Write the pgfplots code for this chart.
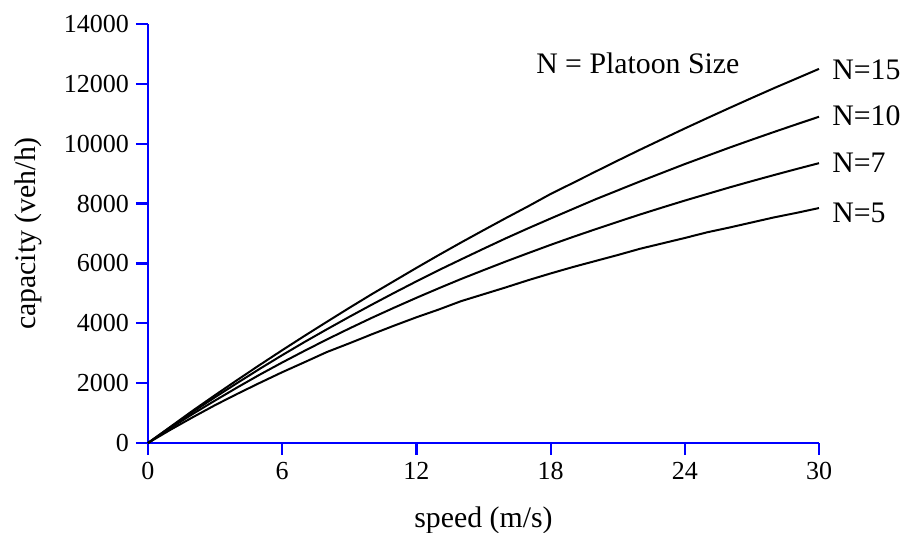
\documentclass[border=0pt]{standalone}
\usepackage{pgfplots}
\pgfplotsset{compat=1.18}
\usepackage{fontspec}
\setmainfont{Liberation Serif}

% capacity, speed step 1 m/s
\pgfplotstableread{
v    n15    n10    n7    n5
0    0      0      0     0
1    540    525    495   440
2    1080   1040   970   860
3    1600   1530   1420  1265
4    2110   2010   1860  1645
5    2610   2480   2285  2010
6    3100   2935   2690  2365
7    3580   3375   3080  2700
8    4050   3800   3460  3040
9    4515   4215   3825  3330
10   4970   4620   4180  3630
11   5410   5015   4520  3920
12   5850   5400   4850  4200
13   6280   5775   5170  4460
14   6700   6135   5480  4740
15   7110   6490   5775  4970
16   7515   6840   6065  5200
17   7910   7175   6345  5440
18   8320   7500   6620  5665
19   8690   7820   6885  5880
20   9065   8140   7140  6080
21   9435   8440   7390  6280
22   9800   8740   7635  6490
23   10155  9030   7870  6670
24   10510  9320   8100  6850
25   10855  9595   8320  7040
26   11195  9870   8540  7200
27   11530  10135  8750  7370
28   11860  10395  8955  7540
29   12180  10650  9155  7690
30   12500  10900  9350  7850
}\capdata

\begin{document}
\begin{tikzpicture}
\useasboundingbox (-74pt,-45pt) rectangle (378pt,221.5pt);
\begin{axis}[
  scale only axis,
  width=335.5pt, height=209.5pt,
  xmin=0, xmax=30, ymin=0, ymax=14000,
  xtick={0,6,...,30},
  ytick={0,2000,...,14000},
  axis x line*=bottom, axis y line*=left,
  axis line style={blue, line width=1.1pt, -},
  major tick style={blue, line width=1.1pt},
  major tick length=6pt,
  tick align=outside,
  scaled ticks=false,
  /pgf/number format/.cd, fixed, set thousands separator={}, assume math mode=true,
  /pgfplots/.cd,
  ticklabel style={font=\fontsize{13}{15}\selectfont},
  label style={font=\fontsize{14.9}{17}\selectfont},
  xlabel={speed (m/s)},
  ylabel={capacity (veh/h)},
  xlabel style={at={(axis description cs:0.5,0)}, anchor=center, yshift=-38.5pt},
  ylabel style={at={(axis description cs:0,0.5)}, anchor=center, yshift=60pt},
  clip=false,
]
\addplot[black, line width=1pt] table[x=v, y=n15] {\capdata};
\addplot[black, line width=1pt] table[x=v, y=n10] {\capdata};
\addplot[black, line width=1pt] table[x=v, y=n7] {\capdata};
\addplot[black, line width=1pt] table[x=v, y=n5] {\capdata};
\begin{scope}[every node/.style={font=\fontsize{14.9}{17}\selectfont, anchor=west, inner sep=0pt}]
\node at (axis cs:30,12460) [xshift=6.5pt] {N=15};
\node at (axis cs:30,10950) [xshift=6.5pt] {N=10};
\node at (axis cs:30,9380) [xshift=6.5pt] {N=7};
\node at (axis cs:30,7680) [xshift=6.5pt] {N=5};
\node[anchor=center] at (axis cs:21.9,12700) {N = Platoon Size};
\end{scope}
\end{axis}
\end{tikzpicture}
\end{document}
